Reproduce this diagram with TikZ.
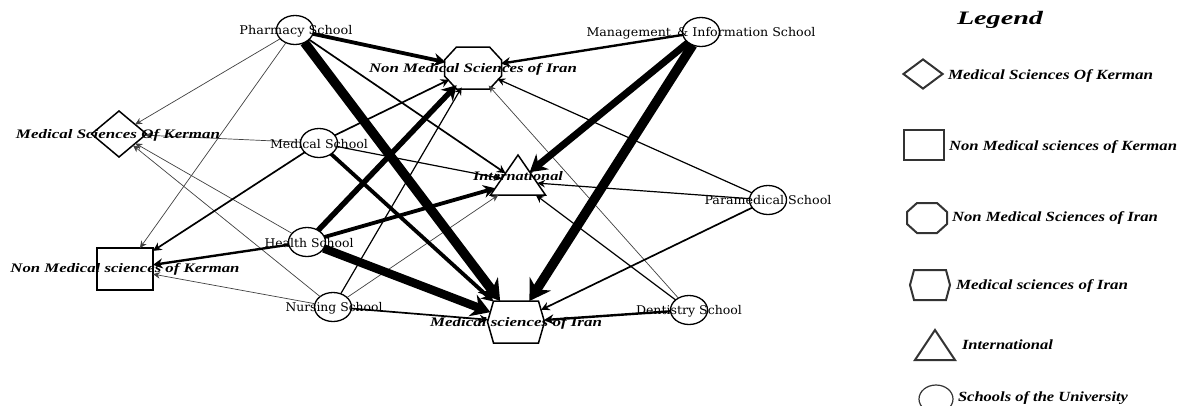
\documentclass[tikz,border=0pt]{standalone}
\usepackage{fontspec}
\usepackage{graphicx}
\usetikzlibrary{arrows.meta,shapes.geometric,shapes.symbols}
\newfontfamily\schfont{DejaVu Serif}
\newfontfamily\bifont{Liberation Serif}
\newcommand\schtxt[2]{{\schfont\fontsize{12}{14}\selectfont\resizebox{#1pt}{\height}{#2}}}
\newcommand\bitxt[3][13]{{\bifont\bfseries\itshape\fontsize{#1}{#1}\selectfont\resizebox{#2pt}{\height}{#3}}}
\begin{document}
\begin{tikzpicture}[x=1pt,y=-1pt,
  school/.style={ellipse, draw, line width=1.3pt, minimum width=37pt, minimum height=29pt, inner sep=0pt, outer sep=0pt},
  lbl/.style={inner sep=0pt, outer sep=0pt},
  diam/.style={diamond, draw, line width=1.5pt, minimum width=55pt, minimum height=46pt, inner sep=0pt, outer sep=0pt},
  sqbox/.style={rectangle, draw, line width=1.5pt, minimum width=56pt, minimum height=42pt, inner sep=0pt, outer sep=0pt},
  octborder/.style={ellipse, minimum width=57pt, minimum height=42pt, inner sep=0pt, outer sep=0pt},
  octline/.style={line width=1.5pt, line join=miter},
  hexa/.style={signal, signal to=east and west, signal pointer angle=148, draw, line width=1.5pt, minimum width=57pt, minimum height=42pt, inner sep=0pt, outer sep=0pt},
  tri/.style={regular polygon, regular polygon sides=3, draw, line width=1.5pt, minimum size=63.5pt, inner sep=0pt, outer sep=0pt, yscale=0.84, transform shape},
  lgdiam/.style={diamond, draw=black!80, line width=2pt, minimum width=40pt, minimum height=30pt, inner sep=0pt},
  lgsq/.style={rectangle, draw=black!80, line width=2pt, minimum width=40pt, minimum height=30pt, inner sep=0pt},
  lgoct/.style={rectangle, minimum width=40pt, minimum height=30pt, inner sep=0pt},
  lgoctline/.style={draw=black!80, line width=2pt},
  lghex/.style={signal, signal to=east and west, signal pointer angle=150, draw=black!80, line width=2pt, minimum width=40pt, minimum height=30pt, inner sep=0pt},
  lgtri/.style={regular polygon, regular polygon sides=3, draw=black!80, line width=2pt, minimum size=46.2pt, inner sep=0pt, yscale=0.867, transform shape},
  lgcirc/.style={ellipse, draw=black!80, line width=1.2pt, minimum width=34pt, minimum height=28pt, inner sep=0pt},
  arr/.style={-{Stealth[length=6pt 1.5,width=5pt 2.1]}},
  lwA/.style={arr, line width=0.7pt, draw=black!75},
  lwB/.style={arr, line width=1.2pt},
  lwC/.style={arr, line width=1.7pt},
  lwD/.style={arr, line width=2.4pt},
  lwE/.style={arr, line width=3.8pt},
  lwF/.style={arr, line width=5.5pt},
  lwG/.style={arr, line width=7pt},
  lwH/.style={arr, line width=8.5pt},
  lwI/.style={arr, line width=9.5pt}
]
\useasboundingbox (0,0) rectangle (1188,405);
\clip (0,0) rectangle (1188,405);
% schools
\node[school] (pharm) at (295,30) {};
\node[school] (med) at (319,143) {};
\node[school] (health) at (307,242) {};
\node[school] (nurs) at (333,307) {};
\node[school] (mgmt) at (701,32) {};
\node[school] (para) at (768,200) {};
\node[school] (dent) at (689,310) {};
% targets
\node[diam] (msk) at (119,134) {};
\node[sqbox] (nmsk) at (125,269) {};
\node[octborder] (nmsi) at (473,68) {};
\draw[octline, shift={(nmsi.center)}] (-16.5,-21) -- (16.5,-21) -- (28.5,-8) -- (28.5,8) -- (16.5,21) -- (-16.5,21) -- (-28.5,8) -- (-28.5,-8) -- cycle;
\node[tri] (intl) at (518,181.7) {};
\node[hexa] (msi) at (516,322) {};
% edges
\draw[lwA] (pharm) -- (msk);
\draw[lwA] (pharm) -- (nmsk);
\draw[lwA] (med) -- (msk);
\draw[lwA] (health) -- (msk);
\draw[lwA] (nurs) -- (msk);
\draw[lwA] (nurs) -- (nmsk);
\draw[lwA] (nurs) -- (intl);
\draw[lwA] (dent) -- (nmsi);
\draw[lwB] (med) -- (intl);
\draw[lwB] (para) -- (intl);
\draw[lwB] (dent) -- (intl);
\draw[lwB] (para) -- (nmsi);
\draw[lwB] (nurs) -- (nmsi);
\draw[lwC] (pharm) -- (intl);
\draw[lwC] (med) -- (nmsk);
\draw[lwC] (med) -- (nmsi);
\draw[lwC] (nurs) -- (msi);
\draw[lwC] (para) -- (msi);
\draw[lwD] (health) -- (nmsk);
\draw[lwD] (mgmt) -- (nmsi);
\draw[lwD] (dent) -- (msi);
\draw[lwE] (pharm) -- (nmsi);
\draw[lwE] (med) -- (msi);
\draw[lwE] (health) -- (intl);
\draw[lwF] (health) -- (nmsi);
\draw[lwG] (mgmt) -- (intl);
\draw[lwH] (health) -- (msi);
\draw[lwI] (pharm) -- (msi);
\draw[lwI] (mgmt) -- (msi);
% labels
\node[lbl] (pharm-t) at (296,31) {\schtxt{113}{Pharmacy School}};
\node[lbl] (med-t) at (319,144) {\schtxt{98}{Medical School}};
\node[lbl] (health-t) at (309,243) {\schtxt{89}{Health School}};
\node[lbl] (nurs-t) at (334,308) {\schtxt{97}{Nursing School}};
\node[lbl] (mgmt-t) at (701,33) {\schtxt{229}{Management \,\& Information School}};
\node[lbl] (para-t) at (768,200) {\schtxt{127}{Paramedical School}};
\node[lbl] (dent-t) at (689,311) {\schtxt{106}{Dentistry School}};
\node[lbl] (msk-t) at (118,135) {\bitxt{204}{Medical Sciences Of Kerman}};
\node[lbl] (nmsk-t) at (125,269) {\bitxt{229}{Non Medical sciences of Kerman}};
\node[lbl] (nmsi-t) at (473,69) {\bitxt{208}{Non Medical Sciences of Iran}};
\node[lbl] (intl-t) at (518,176) {\bitxt{90}{International}};
\node[lbl] (msi-t) at (516,323) {\bitxt{172}{Medical sciences of Iran}};
% legend
\node[lbl] (lg-title) at (1000,20) {\bitxt[19]{86}{Legend}};
\node[lgdiam] (lg1) at (923,74) {};
\node[lbl, anchor=west] (lg1-t) at (948,76) {\bitxt[14]{205}{Medical Sciences Of Kerman}};
\node[lgsq] (lg2) at (924,145) {};
\node[lbl, anchor=west] (lg2-t) at (949,147) {\bitxt[14]{228}{Non Medical sciences of Kerman}};
\node[lgoct] (lg3) at (927,218) {};
\draw[lgoctline, shift={(lg3.center)}] (-10,-15) -- (10,-15) -- (20,-6) -- (20,6) -- (10,15) -- (-10,15) -- (-20,6) -- (-20,-6) -- cycle;
\node[lbl, anchor=west] (lg3-t) at (952,218) {\bitxt[14]{206}{Non Medical Sciences of Iran}};
\node[lghex] (lg4) at (930,285) {};
\node[lbl, anchor=west] (lg4-t) at (956,286) {\bitxt[14]{172}{Medical sciences of Iran}};
\node[lgtri] (lg5) at (935,350) {};
\node[lbl, anchor=west] (lg5-t) at (962,345) {\bitxt[14]{91}{International}};
\node[lgcirc] (lg6) at (936,399) {};
\node[lbl, anchor=west] (lg6-t) at (958,398) {\bitxt[14]{170}{Schools of the University}};
\end{tikzpicture}
\end{document}
